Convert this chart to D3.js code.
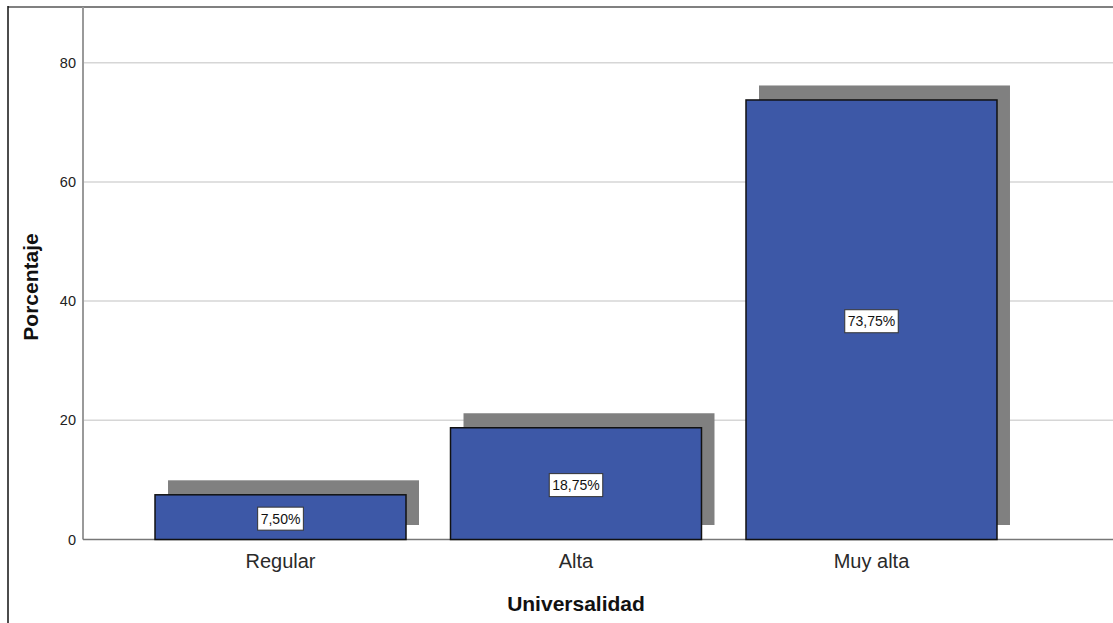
<!DOCTYPE html>
<html>
<head>
<meta charset="utf-8">
<script src="https://cdn.jsdelivr.net/npm/d3@7"></script>
<style>
  html, body { margin: 0; padding: 0; background: #fff; }
  svg { display: block; }
  text { font-family: Arial, "Liberation Sans", sans-serif; }
</style>
</head>
<body>
<svg id="chart" width="1113" height="623"></svg>
<script>
// Universalidad: percentage of responses by level
const categories = ["Regular", "Alta", "Muy alta"];
const percentages = [7.50, 18.75, 73.75];
const yTicks = [0, 20, 40, 60, 80];
const pctLabels = ["7,50%", "18,75%", "73,75%"];

const W = 1113, H = 623;
const plot = { left: 83, top: 7, bottom: 539.5, right: 1113 };

const svg = d3.select("#chart");

const y = d3.scaleLinear().domain([0, 89.35]).range([plot.bottom, plot.top]);
const x = d3.scaleBand()
  .domain(categories)
  .range([plot.left, 1069])
  .paddingInner(0.1506)
  .paddingOuter(0.2437);

// outer frame
svg.append("line").attr("x1", 8).attr("x2", W).attr("y1", 7).attr("y2", 7)
  .attr("stroke", "#808080").attr("stroke-width", 2);
svg.append("line").attr("x1", 8).attr("x2", 8).attr("y1", 6).attr("y2", H)
  .attr("stroke", "#111").attr("stroke-width", 1.5);

// horizontal gridlines
svg.append("g").selectAll("line")
  .data(yTicks.filter(d => d > 0))
  .join("line")
  .attr("x1", plot.left).attr("x2", plot.right)
  .attr("y1", d => y(d)).attr("y2", d => y(d))
  .attr("stroke", "#d6d6d6").attr("stroke-width", 1.5);

// y axis
const yAxis = svg.append("g")
  .attr("transform", `translate(${plot.left},0)`)
  .call(d3.axisLeft(y).tickValues(yTicks).tickSize(0).tickPadding(7).tickFormat(d3.format("d")));
yAxis.select(".domain").remove();
yAxis.selectAll("text").attr("font-size", 14.5).attr("fill", "#222")
  .attr("font-family", "Arial, 'Liberation Sans', sans-serif");
svg.append("line").attr("x1", plot.left).attr("x2", plot.left)
  .attr("y1", plot.top).attr("y2", plot.bottom)
  .attr("stroke", "#9a9a9a").attr("stroke-width", 2);

// shadows behind bars
const dx = 13, dy = 14.5;
svg.append("g").selectAll("rect")
  .data(percentages)
  .join("rect")
  .attr("x", (d, i) => x(categories[i]) + dx)
  .attr("y", d => y(d) - dy)
  .attr("width", x.bandwidth())
  .attr("height", d => y(0) - y(d))
  .attr("fill", "#808080");

// x baseline
svg.append("line").attr("x1", plot.left).attr("x2", plot.right)
  .attr("y1", plot.bottom).attr("y2", plot.bottom)
  .attr("stroke", "#777").attr("stroke-width", 1.5);

// bars
svg.append("g").selectAll("rect")
  .data(percentages)
  .join("rect")
  .attr("x", (d, i) => x(categories[i]))
  .attr("y", d => y(d))
  .attr("width", x.bandwidth())
  .attr("height", d => y(0) - y(d))
  .attr("fill", "#3d58a7")
  .attr("stroke", "#111")
  .attr("stroke-width", 1.5);

// value labels in boxes
const lab = svg.append("g").selectAll("g")
  .data(percentages)
  .join("g")
  .attr("transform", (d, i) => `translate(${x(categories[i]) + x.bandwidth() / 2},${(y(d) + y(0)) / 2 + 1.5})`);
lab.append("text")
  .attr("text-anchor", "middle")
  .attr("dy", "0.35em")
  .attr("font-size", 14)
  .attr("fill", "#111")
  .text((d, i) => pctLabels[i]);
lab.each(function () {
  const g = d3.select(this);
  const bb = g.select("text").node().getBBox();
  g.insert("rect", "text")
    .attr("x", bb.x - 3).attr("y", -11.5)
    .attr("width", bb.width + 6).attr("height", 23)
    .attr("fill", "#fff").attr("stroke", "#333").attr("stroke-width", 1);
});

// category labels
svg.append("g").selectAll("text")
  .data(categories)
  .join("text")
  .attr("x", d => x(d) + x.bandwidth() / 2)
  .attr("y", 568)
  .attr("text-anchor", "middle")
  .attr("font-size", 20)
  .attr("fill", "#2a2a2a")
  .text(d => d);

// axis titles
svg.append("text")
  .attr("x", 576).attr("y", 611)
  .attr("text-anchor", "middle")
  .attr("font-size", 21).attr("font-weight", "bold").attr("fill", "#111")
  .text("Universalidad");
svg.append("text")
  .attr("transform", "translate(38,287) rotate(-90)")
  .attr("text-anchor", "middle")
  .attr("font-size", 21).attr("font-weight", "bold").attr("fill", "#111")
  .text("Porcentaje");
</script>
</body>
</html>
